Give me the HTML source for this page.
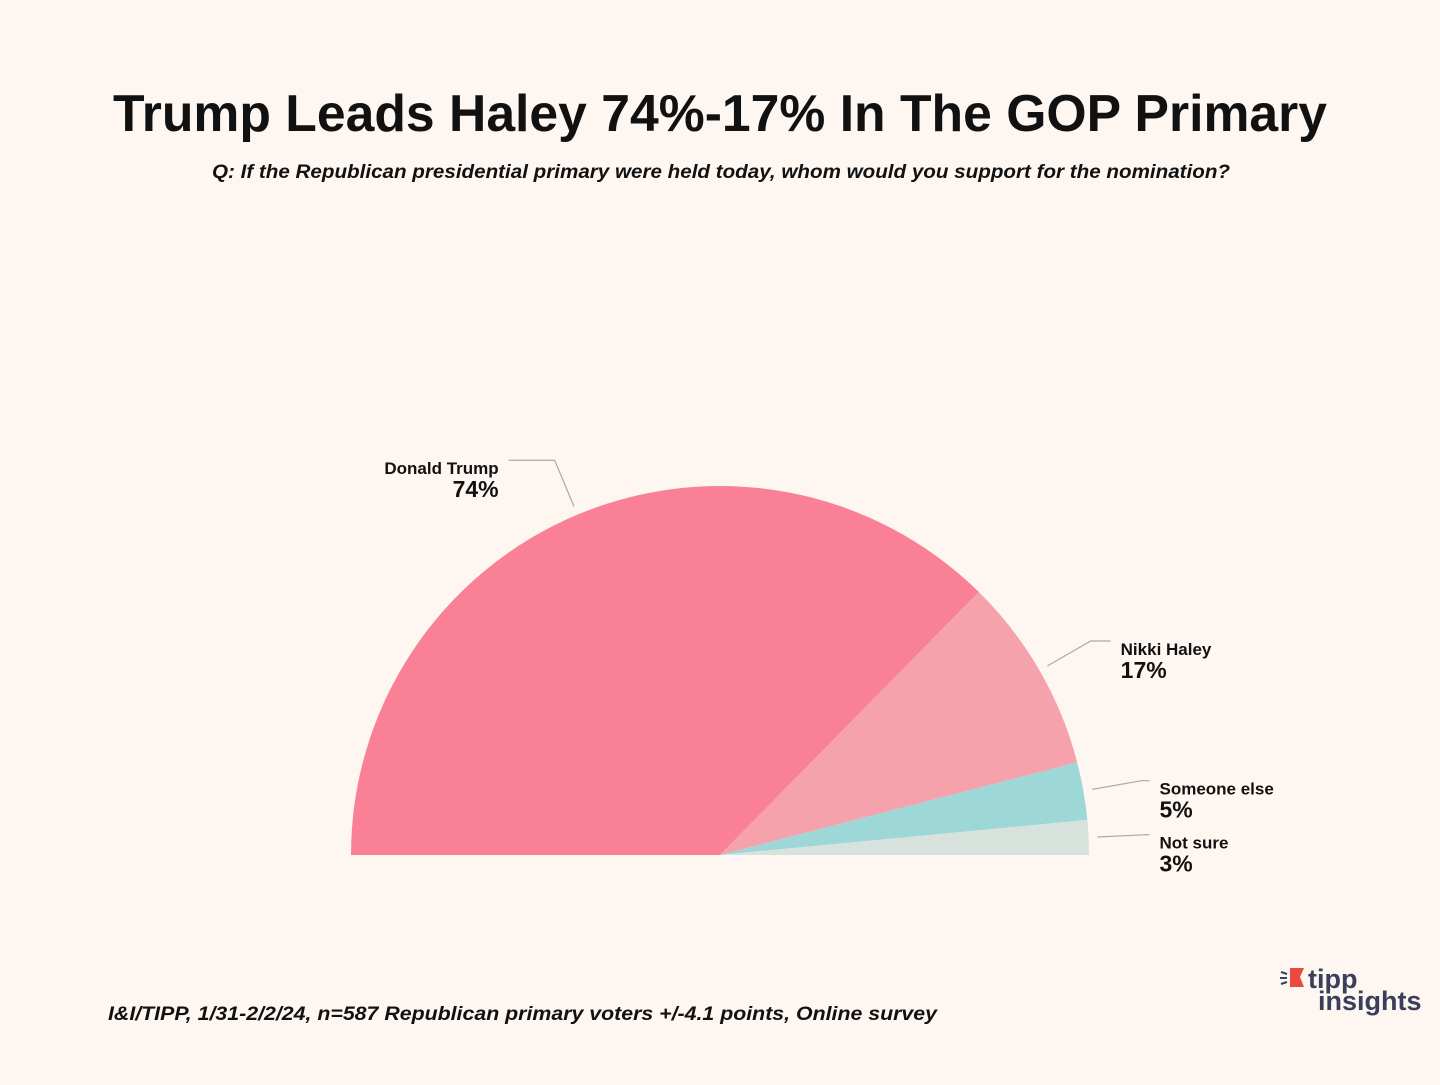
<!DOCTYPE html>
<html><head><meta charset="utf-8"><style>
body{margin:0;width:1440px;height:1080px;background:#fdf6f1;font-family:"Liberation Sans",sans-serif;overflow:hidden}
</style></head><body>
<svg width="1440" height="1080">
<text x="113" y="131" textLength="1214" lengthAdjust="spacingAndGlyphs" font-size="52" font-weight="bold" fill="#111">Trump Leads Haley 74%-17% In The GOP Primary</text>
<text x="212" y="178" textLength="1018" lengthAdjust="spacingAndGlyphs" font-size="19" font-weight="bold" font-style="italic" fill="#111">Q: If the Republican presidential primary were held today, whom would you support for the nomination?</text>
<g id="pie"></g>
<text x="108" y="1020" textLength="829" lengthAdjust="spacingAndGlyphs" font-size="19" font-weight="bold" font-style="italic" fill="#111">I&amp;I/TIPP, 1/31-2/2/24, n=587 Republican primary voters +/-4.1 points,  Online survey</text>
<g>
<path d="M1290 968 L1304 968 L1300 977 L1304 987 L1290 987 Z" fill="#e9493f"/>
<path d="M1281 972 l6 2 M1280 978 h7 M1281 984 l6 -2" stroke="#3a3f5c" stroke-width="2"/>
<text x="1308" y="988" font-size="27" font-weight="bold" fill="#3a3f5c">tipp</text>
<text x="1318" y="1010" font-size="27" font-weight="bold" fill="#3a3f5c">insights</text>
</g>
</svg>
<script>
const categories=["Donald Trump","Nikki Haley","Someone else","Not sure"];
const values=[74,17,5,3];
const labels=["74%","17%","5%","3%"];
const colors=["#f98095","#f5a2ad","#9dd7d7","#d8e2dc"];
const hlens=[46,20,8,2];
const cx=720,cy=855,R=369;
const NS="http://www.w3.org/2000/svg";
const g=document.getElementById('pie');
const total=values.reduce((a,b)=>a+b,0);
function pt(a,r){return [cx+r*Math.cos(a*Math.PI/180),cy-r*Math.sin(a*Math.PI/180)];}
let start=180;
values.forEach((v,i)=>{
  const sweep=v/total*180, end=start-sweep;
  const p1=pt(start,R),p2=pt(end,R);
  const path=document.createElementNS(NS,'path');
  path.setAttribute('d',`M${cx} ${cy} L${p1[0]} ${p1[1]} A${R} ${R} 0 0 1 ${p2[0]} ${p2[1]} Z`);
  path.setAttribute('fill',colors[i]);
  
  
  g.appendChild(path);
  const mid=(start+end)/2;
  const a=pt(mid,R+9),b=pt(mid,R+59);
  const left=mid>90;
  const hl=hlens[i];
  const ex=b[0]+(left?-hl:hl);
  const line=document.createElementNS(NS,'polyline');
  line.setAttribute('points',`${a[0]},${a[1]} ${b[0]},${b[1]} ${ex},${b[1]}`);
  line.setAttribute('fill','none');line.setAttribute('stroke','#aaa');line.setAttribute('stroke-width','1.2');
  
  
  g.appendChild(line);
  const tx=left?ex-10:ex+10, anchor=left?'end':'start';
  const t1=document.createElementNS(NS,'text');
  t1.setAttribute('x',tx);t1.setAttribute('y',b[1]+14);t1.setAttribute('text-anchor',anchor);
  t1.setAttribute('font-size','17');t1.setAttribute('font-weight','bold');t1.setAttribute('fill','#111');t1.textContent=categories[i];
  
  
  g.appendChild(t1);
  const t2=document.createElementNS(NS,'text');
  t2.setAttribute('x',tx);t2.setAttribute('y',b[1]+37);t2.setAttribute('text-anchor',anchor);
  t2.setAttribute('font-size','23');t2.setAttribute('font-weight','bold');t2.setAttribute('fill','#111');t2.textContent=labels[i];
  
  
  g.appendChild(t2);
  start=end;
});
</script>
</body></html>
